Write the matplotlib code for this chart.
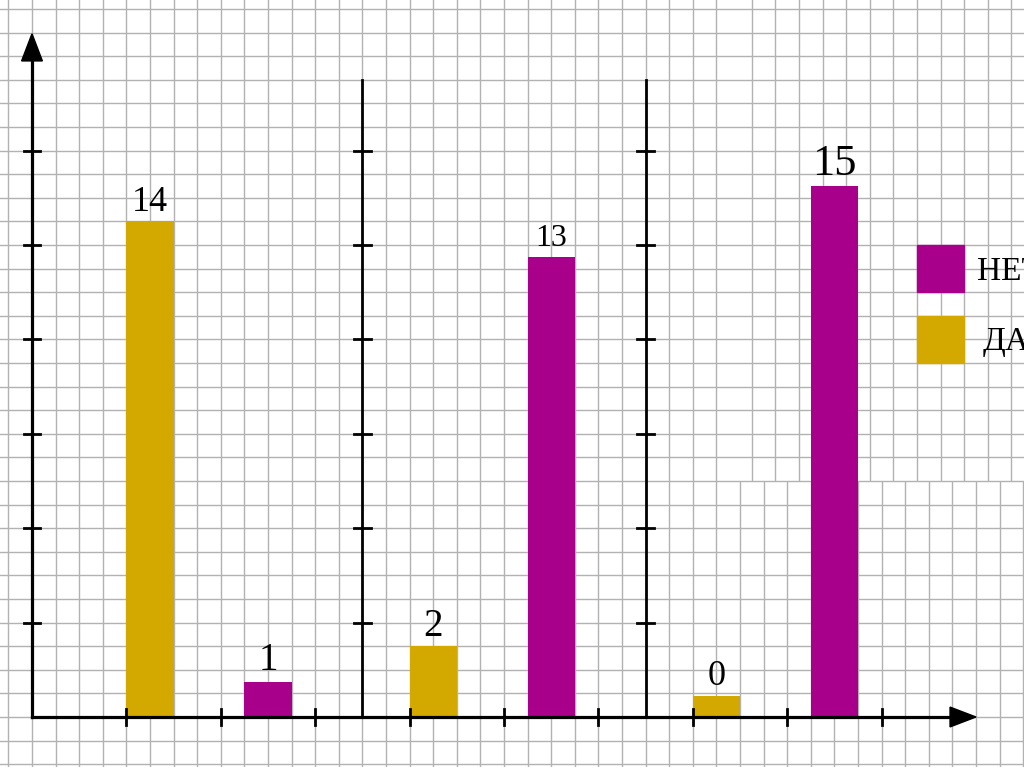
import numpy as np
import matplotlib.pyplot as plt
from matplotlib.patches import Rectangle

# data
group_names = ['1', '2', '3']
da_values = [14, 2, 0]
net_values = [1, 13, 15]
legend_labels = ['НЕТ', 'ДА']

# style
da_color = '#D3A900'
net_color = '#A8008B'
grid_color = '#b2b2b2'
da_label_sizes = [26, 28, 26]
net_label_sizes = [28, 23, 32]
zero_stub = 0.6          # a zero bar is still drawn as a thin block

# layout: x in grid cells, y in value units, 1 value = 1.5 cells
cell_px = 23.6
cpu = 1.5
fig = plt.figure(figsize=(10.24, 7.67), dpi=100)
ax = fig.add_axes([0, 0, 1, 1])
ax.set_xlim(-32 / cell_px, (1024 - 32) / cell_px)
ax.set_ylim(-50 / cell_px / cpu, 717 / cell_px / cpu)
ax.axis('off')

def cy(c):
    return c / cpu

# squared paper
top = 31
for k in range(-1, 44):
    if k >= 30:
        ax.vlines(k, cy(-3), cy(10), color=grid_color, lw=1.0, zorder=0)
    else:
        ax.vlines(k, cy(-3), cy(top), color=grid_color, lw=1.0, zorder=0)
for k in range(30, 43):
    ax.vlines(k + 0.5, cy(10), cy(top), color=grid_color, lw=1.0, zorder=0)
for k in range(-2, 31):
    ax.hlines(cy(k), -2, 44, color=grid_color, lw=1.0, zorder=0)

# axes with arrows
lw = 2.3
ax.plot([0, 0], [0, cy(28.0)], color='black', lw=lw, zorder=3)
ax.fill([-0.44, 0.44, 0], [cy(27.8), cy(27.8), cy(28.95)], color='black', zorder=3)
ax.plot([0, 39.0], [0, 0], color='black', lw=lw, zorder=3)
ax.fill([38.9, 38.9, 40.0], [cy(-0.42), cy(0.42), 0], color='black', zorder=3)

# group dividers
for xd in [14, 26]:
    ax.plot([xd, xd], [0, cy(27)], color='black', lw=2.0, zorder=3)

# ticks
for xd in [0, 14, 26]:
    for t in range(4, 25, 4):
        ax.plot([xd - 0.35, xd + 0.35], [cy(t), cy(t)], color='black', lw=2.0, zorder=3)
for t in range(4, 37, 4):
    ax.plot([t, t], [cy(-0.35), cy(0.35)], color='black', lw=2.0, zorder=3)

# bars
g = np.arange(len(group_names)) * 12
x_da = g + 5
x_net = g + 10
da_h = [max(v, zero_stub) for v in da_values]
net_h = [max(v, zero_stub) for v in net_values]
ax.bar(x_da, da_h, width=2, color=da_color, zorder=2)
ax.bar(x_net, net_h, width=2, color=net_color, zorder=2)

for x, v, h, fs in zip(x_da, da_values, da_h, da_label_sizes):
    ax.annotate(str(v), (x, h), xytext=(0, 7.5), textcoords='offset points',
                ha='center', va='baseline', fontsize=fs, family='Liberation Serif')
for x, v, h, fs in zip(x_net, net_values, net_h, net_label_sizes):
    ax.annotate(str(v), (x, h), xytext=(0, 8), textcoords='offset points',
                ha='center', va='baseline', fontsize=fs, family='Liberation Serif')

# legend
ax.add_patch(Rectangle((37.5, cy(18)), 2, cy(2), color=net_color, zorder=2))
ax.add_patch(Rectangle((37.5, cy(15)), 2, cy(2), color=da_color, zorder=2))
ax.text(40.05, cy(18.5), legend_labels[0], fontsize=24, family='Liberation Serif',
        va='baseline', ha='left')
ax.text(40.3, cy(15.55), legend_labels[1], fontsize=24, family='Liberation Serif',
        va='baseline', ha='left')

fig.savefig('out.png', dpi=100)
